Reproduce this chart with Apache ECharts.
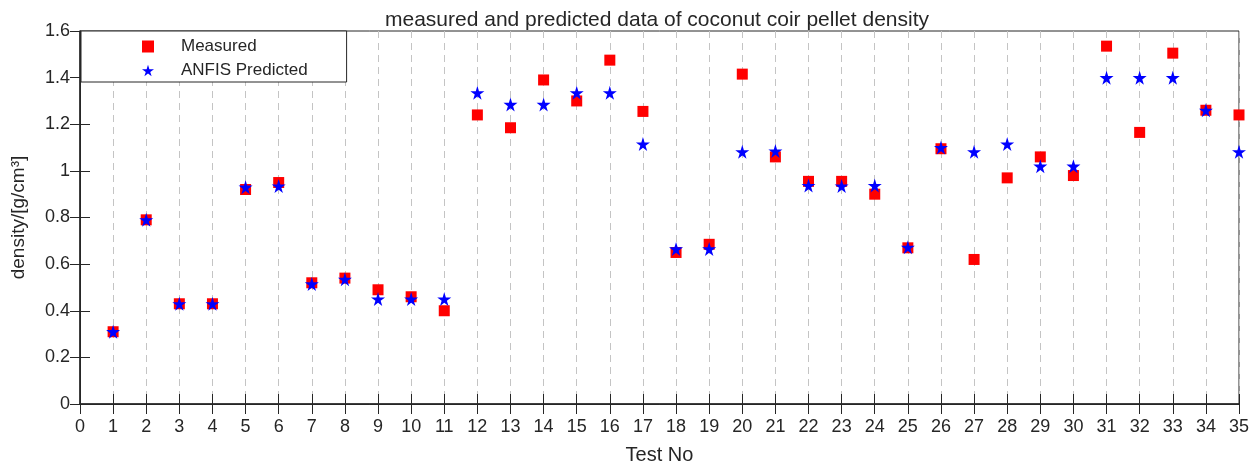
<!DOCTYPE html>
<html>
<head>
<meta charset="utf-8">
<script src="https://cdn.jsdelivr.net/npm/echarts@6/dist/echarts.min.js"></script>
<style>
  html, body { margin: 0; padding: 0; background: #fff; }
  #chart { width: 1258px; height: 465px; }
</style>
</head>
<body>
<div id="chart"></div>
<script>
// test numbers 1..35
var testNo = [1, 2, 3, 4, 5, 6, 7, 8, 9, 10, 11, 12, 13, 14, 15, 16, 17, 18, 19, 20,
  21, 22, 23, 24, 25, 26, 27, 28, 29, 30, 31, 32, 33, 34, 35];
// measured density (g/cm3)
var measured = [0.31, 0.79, 0.43, 0.43, 0.92, 0.95, 0.52, 0.54, 0.49, 0.46,
  0.40, 1.24, 1.185, 1.39, 1.30, 1.475, 1.255, 0.65, 0.685, 1.415,
  1.06, 0.955, 0.955, 0.90, 0.67, 1.095, 0.62, 0.97, 1.06, 0.98,
  1.535, 1.165, 1.505, 1.26, 1.24];
// ANFIS predicted density
var predicted = [0.31, 0.79, 0.43, 0.43, 0.93, 0.935, 0.515, 0.535, 0.45, 0.45,
  0.45, 1.335, 1.285, 1.285, 1.335, 1.335, 1.115, 0.665, 0.665, 1.082,
  1.085, 0.937, 0.935, 0.937, 0.672, 1.10, 1.082, 1.115, 1.02, 1.02,
  1.40, 1.40, 1.40, 1.26, 1.082];

var starPath = 'path://M50,0 L61,35 L98,35 L68,57 L79,91 L50,70 L21,91 L32,57 L2,35 L39,35 Z';
var ink = '#262626';
var font = 'Liberation Sans';

function pairs(vals) {
  return testNo.map(function (t, i) { return [t, vals[i]]; });
}

var chart = echarts.init(document.getElementById('chart'));
chart.setOption({
  animation: false,
  title: {
    text: 'measured and predicted data of coconut coir pellet density',
    left: 652, textAlign: 'center', top: 5,
    textStyle: { fontFamily: font, fontSize: 21, fontWeight: 'normal', color: ink }
  },
  legend: {
    orient: 'vertical', left: 81, top: 31, z: 10,
    backgroundColor: '#fff', borderColor: ink, borderWidth: 1, borderRadius: 0,
    padding: [7, 39, 3, 61], itemGap: 7,
    itemWidth: 12, itemHeight: 12,
    textStyle: { fontFamily: font, fontSize: 17, color: ink, lineHeight: 17, padding: [0, 0, 0, 22] },
    data: [
      { name: 'Measured', icon: 'rect' },
      { name: 'ANFIS Predicted', icon: starPath }
    ]
  },
  grid: {
    left: 80, right: 19, top: 31, bottom: 61, outerBoundsMode: 'none',
    show: true, borderColor: ink, borderWidth: 1
  },
  xAxis: [{
    type: 'value', min: 0, max: 35, interval: 1,
    name: 'Test No', nameLocation: 'middle', nameGap: 41,
    nameTextStyle: { fontFamily: font, fontSize: 20, color: ink },
    axisLine: { onZero: false, lineStyle: { color: ink, width: 1.5 } },
    axisTick: { inside: true, length: 10, lineStyle: { color: ink } },
    axisLabel: { fontFamily: font, fontSize: 18, color: ink, margin: 14 },
    splitLine: { show: true, lineStyle: { color: '#c4c4c4', type: [7, 5], width: 1 } }
  }, {
    type: 'value', min: 0, max: 35, interval: 1, position: 'top',
    axisLine: { show: true, lineStyle: { color: ink } },
    axisTick: { inside: true, length: 10, lineStyle: { color: ink } },
    axisLabel: { show: false }, splitLine: { show: false }
  }],
  yAxis: [{
    type: 'value', min: 0, max: 1.6, interval: 0.2,
    name: 'density/[g/cm³]', nameLocation: 'middle', nameGap: 52,
    nameTextStyle: { fontFamily: font, fontSize: 19, color: ink },
    axisLine: { show: true, onZero: false, lineStyle: { color: ink, width: 1.5 } },
    axisTick: { show: true, inside: true, length: 10, lineStyle: { color: ink } },
    axisLabel: { fontFamily: font, fontSize: 18, color: ink, margin: 10 },
    splitLine: { show: false }
  }, {
    type: 'value', min: 0, max: 1.6, interval: 0.2, position: 'right',
    axisLine: { show: true, lineStyle: { color: ink } },
    axisTick: { show: true, inside: true, length: 10, lineStyle: { color: ink } },
    axisLabel: { show: false }, splitLine: { show: false }
  }],
  series: [{
    name: 'Measured', type: 'scatter',
    symbol: 'rect', symbolSize: 11,
    itemStyle: { color: '#ff0000', opacity: 1 },
    data: pairs(measured)
  }, {
    name: 'ANFIS Predicted', type: 'scatter',
    symbol: starPath, symbolSize: 14,
    itemStyle: { color: '#0000ff', opacity: 1 },
    data: pairs(predicted)
  }]
});
</script>
</body>
</html>
